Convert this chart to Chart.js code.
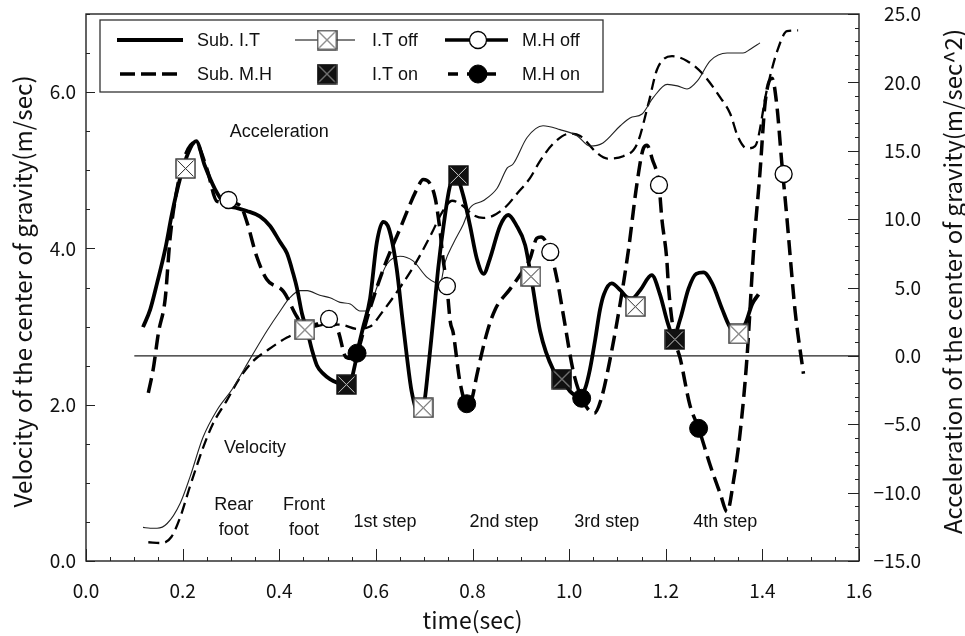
<!DOCTYPE html>
<html>
<head>
<meta charset="utf-8">
<script src="https://cdn.jsdelivr.net/npm/chart.js@4.4.0/dist/chart.umd.min.js"></script>
<style>
  html, body { margin: 0; padding: 0; background: #fff; }
  #c { display: block; }
</style>
</head>
<body>
<canvas id="c" width="965" height="636"></canvas>
<script>
// velocity of the centre of gravity (left axis, m/sec)
const itVelTime = [0.118,0.133,0.147,0.168,0.195,0.215,0.242,0.271,0.304,0.340,0.375,0.402,0.422,0.443,0.458,0.484,0.505,0.526,0.547,0.567,0.584,0.602,0.623,0.650,0.677,0.706,0.733,0.743,0.760,0.781,0.795,0.822,0.851,0.872,0.884,0.913,0.946,0.981,1.017,1.043,1.070,1.106,1.126,1.151,1.174,1.203,1.224,1.244,1.265,1.292,1.327,1.360,1.375,1.395];
const itVel     = [0.43,0.42,0.42,0.48,0.74,1.07,1.58,1.93,2.21,2.59,2.95,3.20,3.37,3.46,3.46,3.40,3.37,3.31,3.29,3.20,3.20,3.50,3.80,3.90,3.84,3.63,3.55,3.82,4.06,4.31,4.52,4.61,4.77,5.03,5.08,5.42,5.57,5.52,5.44,5.31,5.35,5.57,5.67,5.72,5.93,6.10,6.08,6.04,6.14,6.40,6.50,6.50,6.55,6.63];

const mhVelTime = [0.129,0.157,0.177,0.195,0.215,0.243,0.263,0.291,0.319,0.346,0.374,0.416,0.450,0.474,0.503,0.532,0.561,0.588,0.615,0.650,0.685,0.716,0.737,0.758,0.781,0.801,0.822,0.843,0.870,0.892,0.919,0.940,0.967,1.002,1.023,1.058,1.079,1.112,1.141,1.164,1.182,1.213,1.244,1.277,1.313,1.333,1.350,1.368,1.385,1.410,1.431,1.451,1.474];
const mhVel     = [0.24,0.23,0.31,0.56,0.95,1.46,1.76,2.05,2.35,2.56,2.69,2.86,2.95,3.00,3.03,3.02,2.97,3.00,3.20,3.50,3.84,4.20,4.46,4.61,4.54,4.43,4.39,4.42,4.54,4.70,4.90,5.12,5.34,5.47,5.44,5.22,5.15,5.18,5.34,5.85,6.29,6.46,6.40,6.23,5.93,5.73,5.42,5.28,5.31,6.05,6.53,6.78,6.79];

// acceleration of the centre of gravity (right axis, m/sec^2)
const itAccTime = [0.118,0.133,0.147,0.164,0.178,0.195,0.211,0.228,0.246,0.267,0.288,0.313,0.333,0.360,0.381,0.402,0.416,0.429,0.437,0.447,0.458,0.468,0.478,0.491,0.505,0.522,0.538,0.547,0.557,0.563,0.573,0.588,0.602,0.615,0.627,0.643,0.654,0.664,0.674,0.688,0.698,0.709,0.723,0.729,0.740,0.754,0.767,0.781,0.795,0.809,0.823,0.836,0.857,0.874,0.890,0.909,0.923,0.940,0.967,0.985,1.002,1.023,1.033,1.043,1.054,1.064,1.072,1.088,1.106,1.119,1.130,1.147,1.171,1.188,1.205,1.216,1.230,1.247,1.263,1.278,1.296,1.317,1.333,1.347,1.364,1.379,1.392];
const itAcc     = [2.1,3.4,5.3,7.8,10.4,13.0,14.8,15.7,13.9,12.2,11.1,10.8,10.6,10.2,9.5,8.3,7.5,6.0,4.9,3.1,1.8,0.4,-0.7,-1.3,-1.7,-2.0,-2.2,-2.0,-0.6,0.5,2.0,4.2,8.3,9.8,9.3,6.4,3.0,0.0,-2.6,-4.1,-3.8,-0.7,4.2,6.4,9.5,12.5,13.0,11.7,9.5,7.1,6.0,7.1,9.5,10.3,9.6,8.1,5.4,1.8,-1.0,-1.7,-2.6,-3.0,-2.4,-1.0,1.2,3.4,4.5,5.3,4.8,4.3,4.2,4.8,5.9,4.5,2.3,1.4,2.7,4.9,6.0,6.1,5.3,3.4,2.1,1.7,2.3,3.8,4.5];

const mhAccTime = [0.129,0.139,0.150,0.164,0.174,0.191,0.207,0.226,0.250,0.271,0.295,0.319,0.333,0.353,0.374,0.409,0.436,0.449,0.474,0.503,0.522,0.538,0.551,0.563,0.573,0.584,0.616,0.650,0.685,0.698,0.712,0.723,0.733,0.739,0.747,0.754,0.760,0.774,0.788,0.799,0.809,0.830,0.847,0.878,0.902,0.919,0.933,0.942,0.961,0.975,0.988,1.009,1.026,1.039,1.052,1.066,1.085,1.106,1.123,1.140,1.154,1.161,1.172,1.186,1.192,1.202,1.206,1.219,1.230,1.250,1.268,1.292,1.313,1.327,1.340,1.354,1.368,1.382,1.395,1.406,1.420,1.430,1.440,1.451,1.458,1.468,1.485];
const mhAcc     = [-2.7,-1.0,1.7,4.2,8.6,12.7,14.8,15.6,13.7,11.3,11.2,11.0,9.8,7.3,5.6,4.7,2.9,2.3,2.3,2.7,1.8,-0.1,-0.2,0.4,1.6,3.0,6.4,9.3,12.2,12.9,12.6,11.5,9.1,7.1,5.1,2.5,1.7,-1.9,-3.5,-3.1,-1.4,1.7,3.4,4.9,6.1,7.1,8.6,8.7,7.6,5.6,3.0,-1.2,-3.1,-3.9,-4.2,-3.2,-0.2,3.9,7.8,12.5,15.2,15.4,14.4,12.5,10.0,7.1,4.9,1.2,-0.2,-3.6,-5.3,-8.0,-10.1,-11.4,-9.2,-5.6,-0.2,7.8,13.4,18.6,20.3,18.3,14.2,10.0,7.1,3.2,-1.3];

// on / off events (right axis)
const itOffTime = [0.206,0.453,0.698,0.921,1.137,1.351];
const itOffAcc  = [13.7,1.9,-3.8,5.8,3.6,1.6];
const itOnTime  = [0.539,0.771,0.985,1.219];
const itOnAcc   = [-2.1,13.2,-1.7,1.2];
const mhOffTime = [0.295,0.503,0.747,0.961,1.186,1.444];
const mhOffAcc  = [11.4,2.7,5.1,7.6,12.5,13.3];
const mhOnTime  = [0.561,0.788,1.026,1.268];
const mhOnAcc   = [0.2,-3.5,-3.1,-5.3];

// zero acceleration reference
const zeroTime = [0.1, 1.6];
const zeroAcc  = [0, 0];

// text notes, placed in (time, velocity) units
const noteText = ['Acceleration','Velocity','Rear','foot','Front','foot','1st step','2nd step','3rd step','4th step'];
const noteTime = [0.400, 0.350, 0.306, 0.306, 0.451, 0.451, 0.619, 0.865, 1.078, 1.323];
const noteVel  = [5.49, 1.44, 0.71, 0.39, 0.71, 0.39, 0.50, 0.50, 0.50, 0.50];

const xTitle = 'time(sec)';
const leftTitle = 'Velocity of the center of gravity(m/sec)';
const rightTitleText = 'Acceleration of the center of gravity(m/sec^2)';

const cjk = "'Noto Sans CJK JP', 'DejaVu Sans', sans-serif";
const textFont = "18px 'Liberation Sans', Arial, sans-serif";

// font size that makes a title as long as in the original figure
const meas = document.createElement('canvas').getContext('2d');
function fitSize(text, target) {
  meas.font = '100px ' + cjk;
  return Math.round(100 * target / meas.measureText(text).width * 10) / 10;
}
const tickFont = { family: cjk, size: 19 };
const xTitleFont = { family: cjk, size: fitSize(xTitle, 100) };

function pts(xs, ys) {
  return xs.map((x, i) => ({ x: x, y: ys[i] }));
}

// crossed square marker, open or filled
function boxX(filled) {
  const c = document.createElement('canvas');
  c.width = 21; c.height = 21;
  const g = c.getContext('2d');
  g.fillStyle = filled ? '#111' : '#fff';
  g.fillRect(1, 1, 19, 19);
  g.strokeStyle = filled ? '#111' : '#333';
  g.lineWidth = 1.4;
  g.strokeRect(1, 1, 19, 19);
  g.strokeStyle = filled ? '#ccc' : '#222';
  g.lineWidth = 1;
  g.beginPath();
  g.moveTo(2.5, 2.5); g.lineTo(18.5, 18.5);
  g.moveTo(18.5, 2.5); g.lineTo(2.5, 18.5);
  g.stroke();
  return c;
}
const boxOpen = boxX(false);
const boxFilled = boxX(true);

const lineBase = { pointRadius: 0, pointHoverRadius: 0, fill: false, cubicInterpolationMode: 'monotone', borderColor: '#000' };
const markBase = { showLine: false, yAxisID: 'y2', order: 0 };

const datasets = [
  Object.assign({ label: 'Sub. I.T', data: pts(itAccTime, itAcc), yAxisID: 'y2', borderWidth: 3.8, order: 1 }, lineBase),
  Object.assign({ label: 'Sub. M.H', data: pts(mhAccTime, mhAcc), yAxisID: 'y2', borderWidth: 3.5, borderDash: [15, 7], order: 1 }, lineBase),
  Object.assign({ label: 'I.T velocity', data: pts(itVelTime, itVel), yAxisID: 'y', borderWidth: 1.1, order: 2 }, lineBase, { borderColor: '#222' }),
  Object.assign({ label: 'M.H velocity', data: pts(mhVelTime, mhVel), yAxisID: 'y', borderWidth: 2.3, borderDash: [11, 6], order: 2 }, lineBase),
  Object.assign({ label: 'zero', data: pts(zeroTime, zeroAcc), yAxisID: 'y2', borderWidth: 1.2, order: 3 }, lineBase, { borderColor: '#222' }),
  Object.assign({ label: 'I.T off', data: pts(itOffTime, itOffAcc), pointStyle: boxOpen, pointRadius: 10 }, markBase),
  Object.assign({ label: 'I.T on', data: pts(itOnTime, itOnAcc), pointStyle: boxFilled, pointRadius: 10 }, markBase),
  Object.assign({ label: 'M.H off', data: pts(mhOffTime, mhOffAcc), pointStyle: 'circle', pointRadius: 8.5, pointBackgroundColor: '#fff', pointBorderColor: '#000', pointBorderWidth: 1.3 }, markBase),
  Object.assign({ label: 'M.H on', data: pts(mhOnTime, mhOnAcc), pointStyle: 'circle', pointRadius: 9, pointBackgroundColor: '#000', pointBorderColor: '#000', pointBorderWidth: 1 }, markBase)
];

// frame and inward tick marks
const frameTicks = {
  id: 'frameTicks',
  afterDatasetsDraw(chart) {
    const { ctx, chartArea: a, scales } = chart;
    const x = scales.x, y = scales.y, y2 = scales.y2;
    ctx.save();
    ctx.strokeStyle = '#222';
    ctx.lineWidth = 1.4;
    ctx.setLineDash([]);
    ctx.strokeRect(a.left, a.top, a.right - a.left, a.bottom - a.top);
    ctx.lineWidth = 1;
    ctx.beginPath();
    for (let i = 0; i <= 32; i++) {
      const p = Math.round(x.getPixelForValue(i * 0.05)) + 0.5;
      const len = i % 4 === 0 ? 12 : 4;
      ctx.moveTo(p, a.bottom); ctx.lineTo(p, a.bottom - len);
    }
    for (let i = 0; i <= 14; i++) {
      const p = Math.round(y.getPixelForValue(i * 0.5)) + 0.5;
      const len = i % 4 === 0 ? 9 : 4;
      ctx.moveTo(a.left, p); ctx.lineTo(a.left + len, p);
    }
    for (let i = -15; i <= 25; i++) {
      const p = Math.round(y2.getPixelForValue(i)) + 0.5;
      const len = i % 5 === 0 ? 11 : 4;
      ctx.moveTo(a.right, p); ctx.lineTo(a.right - len, p);
    }
    ctx.stroke();
    ctx.restore();
  }
};

// text notes inside the plot
const notes = {
  id: 'notes',
  afterDatasetsDraw(chart) {
    const { ctx, scales } = chart;
    ctx.save();
    ctx.font = textFont;
    ctx.fillStyle = '#111';
    ctx.textAlign = 'center';
    ctx.textBaseline = 'middle';
    noteText.forEach((t, i) => {
      ctx.fillText(t, scales.x.getPixelForValue(noteTime[i]), scales.y.getPixelForValue(noteVel[i]));
    });
    ctx.restore();
  }
};

// both vertical axis titles, reading upward
const sideTitles = {
  id: 'sideTitles',
  afterDraw(chart) {
    const { ctx, chartArea: a } = chart;
    const mid = (a.top + a.bottom) / 2;
    const put = (text, x, y, len) => {
      ctx.save();
      ctx.translate(x, y);
      ctx.rotate(-Math.PI / 2);
      ctx.font = fitSize(text, len) + 'px ' + cjk;
      ctx.fillStyle = '#111';
      ctx.textAlign = 'center';
      ctx.textBaseline = 'middle';
      ctx.fillText(text, 0, 0);
      ctx.restore();
    };
    put(leftTitle, 23, mid + 4, 433);
    put(rightTitleText, 953, mid - 6, 505);
  }
};

// boxed legend, two rows by three columns
const legendBox = {
  id: 'legendBox',
  afterDraw(chart) {
    const { ctx, chartArea: a } = chart;
    const ds = chart.data.datasets;
    const bx = a.left + 14, by = a.top + 6, bw = 503, bh = 72;
    ctx.save();
    ctx.fillStyle = '#fff';
    ctx.fillRect(bx, by, bw, bh);
    ctx.strokeStyle = '#333';
    ctx.lineWidth = 1.3;
    ctx.strokeRect(bx, by, bw, bh);
    const rowY = [by + 20, by + 54];
    const items = [
      { d: 0, row: 0, line: [17, 83], width: 4, dash: [], text: 97 },
      { d: 1, row: 1, line: [20, 77], width: 3.5, dash: [15, 6], text: 97 },
      { d: 5, row: 0, line: [195, 255], width: 1, dash: [], mark: 227, text: 272 },
      { d: 6, row: 1, mark: 227, text: 272 },
      { d: 7, row: 0, line: [345, 408], width: 3.5, dash: [], mark: 378, text: 422 },
      { d: 8, row: 1, line: [348, 403], width: 3.5, dash: [10, 9], mark: 378, text: 422 }
    ];
    items.forEach(it => {
      const cy = rowY[it.row];
      const set = ds[it.d];
      if (it.line) {
        ctx.beginPath();
        ctx.setLineDash(it.dash);
        ctx.lineWidth = it.width;
        ctx.strokeStyle = '#000';
        ctx.moveTo(bx + it.line[0], cy);
        ctx.lineTo(bx + it.line[1], cy);
        ctx.stroke();
        ctx.setLineDash([]);
      }
      if (it.mark !== undefined) {
        const cx = bx + it.mark;
        if (set.pointStyle === 'circle') {
          ctx.beginPath();
          ctx.arc(cx, cy, set.pointRadius, 0, Math.PI * 2);
          ctx.fillStyle = set.pointBackgroundColor;
          ctx.fill();
          ctx.lineWidth = set.pointBorderWidth;
          ctx.strokeStyle = set.pointBorderColor;
          ctx.stroke();
        } else {
          ctx.drawImage(set.pointStyle, cx - 10.5, cy - 10.5);
        }
      }
      ctx.font = textFont;
      ctx.fillStyle = '#111';
      ctx.textAlign = 'left';
      ctx.textBaseline = 'middle';
      ctx.fillText(set.label, bx + it.text, cy + 1);
    });
    ctx.restore();
  }
};

function noPad(s) {
  s.paddingTop = 0; s.paddingBottom = 0; s.paddingLeft = 0; s.paddingRight = 0;
}

new Chart(document.getElementById('c'), {
  type: 'line',
  data: { datasets: datasets },
  options: {
    responsive: false,
    animation: false,
    devicePixelRatio: 1,
    layout: { padding: { top: 14, right: 44, left: 0, bottom: 0 } },
    plugins: { legend: { display: false }, tooltip: { enabled: false } },
    events: [],
    scales: {
      x: {
        type: 'linear', min: 0, max: 1.6,
        grid: { display: false, drawTicks: false }, border: { display: false },
        ticks: { stepSize: 0.2, padding: 18, font: tickFont, color: '#111', maxRotation: 0, autoSkip: false,
                 callback: v => v.toFixed(1) },
        title: { display: true, text: xTitle, font: xTitleFont, color: '#111', padding: { top: 0, bottom: 2 } },
        afterFit(s) { s.height = 75; noPad(s); }
      },
      y: {
        position: 'left', min: 0, max: 7,
        grid: { display: false, drawTicks: false }, border: { display: false },
        ticks: { stepSize: 2, includeBounds: false, padding: 10, font: tickFont, color: '#111',
                 callback: v => v.toFixed(1) },
        afterFit(s) { s.width = 86; noPad(s); }
      },
      y2: {
        position: 'right', min: -15, max: 25,
        grid: { display: false, drawTicks: false }, border: { display: false },
        ticks: { stepSize: 5, crossAlign: 'far', font: tickFont, color: '#111',
                 callback: v => (v < 0 ? '\u2212' : '') + Math.abs(v).toFixed(1) },
        afterFit(s) { s.width = 62; noPad(s); }
      }
    }
  },
  plugins: [frameTicks, notes, legendBox, sideTitles]
});
</script>
</body>
</html>
